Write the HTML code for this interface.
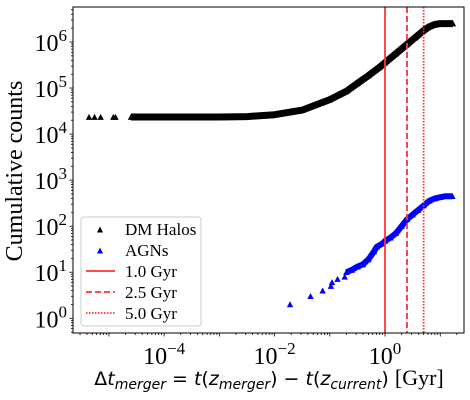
<!DOCTYPE html>
<html><head><meta charset="utf-8">
<style>
html,body{margin:0;padding:0;background:#fff;width:470px;height:400px;overflow:hidden}
svg{display:block}
</style></head>
<body>
<svg id="chart" width="470" height="400" xmlns="http://www.w3.org/2000/svg"></svg>
<script>
// log10 dt values and log10 counts
const dmLogX = [-5.36,-5.26,-5.15,-4.92,-4.88,-4.6,-4.5,-4.3,-4.0,-3.5,-3.0,-2.5,-2.0,-1.5,-1.0,-0.7,-0.5,-0.3,-0.1,0.0,0.2,0.4,0.55,0.7,0.8,0.9,1.0,1.1,1.23];
const dmLogY = [4.37,4.37,4.37,4.37,4.37,4.37,4.37,4.37,4.37,4.37,4.37,4.38,4.42,4.52,4.75,4.93,5.1,5.27,5.45,5.55,5.75,5.95,6.1,6.25,6.33,6.38,6.40,6.40,6.40];
const agnLogX = [-1.72,-1.35,-1.13,-0.98,-0.96,-0.86,-0.73,-0.7,-0.6,-0.5,-0.4,-0.3,-0.2,-0.15,-0.05,0.0,0.1,0.2,0.3,0.4,0.5,0.6,0.7,0.8,0.9,1.0,1.1,1.22];
const agnLogY = [0.30,0.48,0.60,0.70,0.78,0.85,0.90,1.0,1.05,1.12,1.17,1.28,1.45,1.55,1.62,1.68,1.75,1.85,2.0,2.15,2.25,2.35,2.45,2.55,2.6,2.63,2.65,2.65];
const vlines = [1.0, 2.5, 5.0];
const vlineDash = ["", "6,3", "1.5,1.5"];
const xTicks = [-4,-2,0];
const yTicks = [0,1,2,3,4,5,6];

const L=73,R=464,T=7,B=333;
const X0=-5.65,X1=1.43,Y0=-0.32,Y1=6.76;
const sx=v=>L+(v-X0)/(X1-X0)*(R-L);
const sy=v=>B-(v-Y0)/(Y1-Y0)*(B-T);
const svg=document.getElementById('chart');
const NS='http://www.w3.org/2000/svg';
function mk(tag,attrs,parent){const e=document.createElementNS(NS,tag);for(const k in attrs)e.setAttribute(k,attrs[k]);(parent||svg).appendChild(e);return e;}
const serif='"Liberation Serif","DejaVu Serif",serif';

function series(xs,ys,color,name,contFrom,w){
  const g=mk('g',{});
  
  
  let pts=[];
  for(let i=contFrom;i<xs.length;i++)pts.push(sx(xs[i]).toFixed(1)+','+sy(ys[i]).toFixed(1));
  const pl=mk('polyline',{points:pts.join(' '),fill:'none',stroke:color,'stroke-width':w,'stroke-linejoin':'round'},g);
  
  
  for(let i=0;i<xs.length;i++){
    const x=sx(xs[i]),y=sy(ys[i]);
    const p=mk('path',{d:`M${x-3.2},${y+2.8}L${x},${y-3.2}L${x+3.2},${y+2.8}Z`,fill:color},g);
    
    
  }
}
series(dmLogX,dmLogY,'#000','dm-halos-series',5,7);
series(agnLogX,agnLogY,'#0000ff','agn-series',7,6);

vlines.forEach((v,i)=>{
  const x=sx(Math.log10(v));
  const l=mk('line',{x1:x,x2:x,y1:T,y2:B,stroke:'#ff3333','stroke-width':1.8,'stroke-dasharray':vlineDash[i]});
  
  
});

const fr=mk('rect',{x:L,y:T,width:R-L,height:B-T,fill:'none',stroke:'#000','stroke-width':1});



for(let d=-6;d<=1;d++){
  for(let m=1;m<10;m++){
    const v=d+Math.log10(m);
    if(v<X0||v>X1)continue;
    mk('line',{x1:sx(v),x2:sx(v),y1:B,y2:B+(m==1?3.5:2),stroke:'#000','stroke-width':0.8});
  }
}
xTicks.forEach(t=>{
  const tx=mk('text',{x:sx(t),y:B+31,'text-anchor':'middle','font-family':serif,'font-size':24,fill:'#000'});
  
  
  tx.innerHTML=`10<tspan dy="-10" font-size="17">${t<0?'\u2212'+(-t):t}</tspan>`;
});
for(let d=-1;d<=7;d++){
  for(let m=1;m<10;m++){
    const v=d+Math.log10(m);
    if(v<Y0||v>Y1)continue;
    mk('line',{x1:L,x2:L-(m==1?3.5:2),y1:sy(v),y2:sy(v),stroke:'#000','stroke-width':0.8});
  }
}
yTicks.forEach(t=>{
  const ty=mk('text',{x:L-6,y:sy(t)+9,'text-anchor':'end','font-family':serif,'font-size':24,fill:'#000'});
  
  
  ty.innerHTML=`10<tspan dy="-10" font-size="17">${t}</tspan>`;
});
</script>
<svg width="470" height="400" style="position:absolute;left:0;top:0" xmlns="http://www.w3.org/2000/svg">
  <text x="0" y="0" transform="translate(22,171) rotate(-90)" text-anchor="middle" font-family="Liberation Serif,DejaVu Serif,serif" font-size="24">Cumulative counts</text>
  <text x="269" y="385" text-anchor="middle" font-family="DejaVu Sans,sans-serif" font-size="19">Δ<tspan font-style="italic">t</tspan><tspan font-style="italic" font-size="14" dy="4">merger</tspan><tspan dy="-4"> = </tspan><tspan font-style="italic">t</tspan>(<tspan font-style="italic">z</tspan><tspan font-style="italic" font-size="14" dy="4">merger</tspan><tspan dy="-4">) − </tspan><tspan font-style="italic">t</tspan>(<tspan font-style="italic">z</tspan><tspan font-style="italic" font-size="14" dy="4">current</tspan><tspan dy="-4">) </tspan><tspan font-family="Liberation Serif,DejaVu Serif,serif" font-size="22">[Gyr]</tspan></text>
  <g font-family="Liberation Serif,DejaVu Serif,serif" font-size="17">
    <rect x="81" y="217" width="120" height="109" rx="3" fill="#fff" fill-opacity="0.85" stroke="#ccc"/>
    <path d="M97,232.5L100,226.5L103,232.5Z" fill="#000"/>
    <text x="125" y="235">DM Halos</text>
    <path d="M97,253.5L100,247.5L103,253.5Z" fill="#0000ff"/>
    <text x="125" y="256">AGNs</text>
    <line x1="86" x2="115" y1="271" y2="271" stroke="#ff3333" stroke-width="1.8"/>
    <text x="125" y="277">1.0 Gyr</text>
    <line x1="86" x2="115" y1="292" y2="292" stroke="#ff3333" stroke-width="1.8" stroke-dasharray="6,3"/>
    <text x="125" y="298">2.5 Gyr</text>
    <line x1="86" x2="115" y1="313" y2="313" stroke="#ff3333" stroke-width="1.8" stroke-dasharray="1.5,1.5"/>
    <text x="125" y="319">5.0 Gyr</text>
  </g>
</svg>
</body></html>
